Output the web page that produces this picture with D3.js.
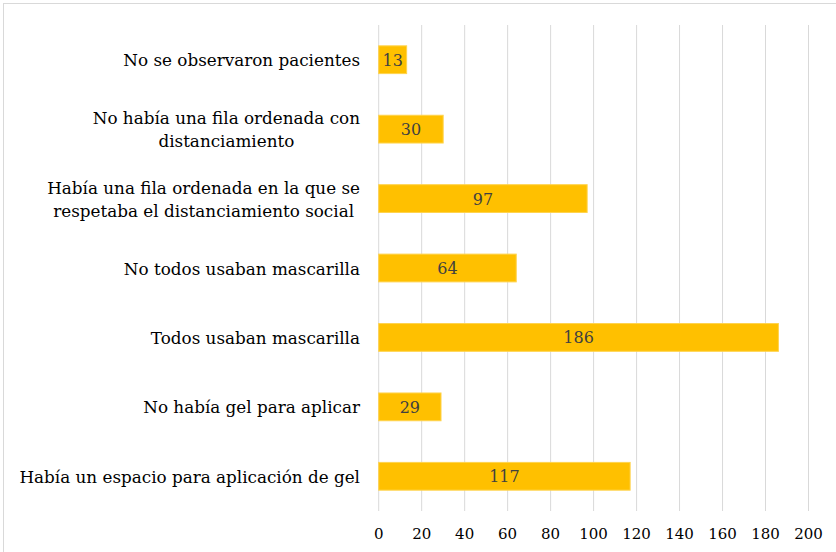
<!DOCTYPE html>
<html>
<head>
<meta charset="utf-8">
<script src="https://cdn.jsdelivr.net/npm/d3@7"></script>
<style>
  body { margin: 0; background: #fff; }
</style>
</head>
<body>
<div id="chart"></div>
<script>
// categories from top to bottom
const categories = [
  ['No se observaron pacientes'],
  ['No había una fila ordenada con', 'distanciamiento'],
  ['Había una fila ordenada en la que se', 'respetaba el distanciamiento social'],
  ['No todos usaban mascarilla'],
  ['Todos usaban mascarilla'],
  ['No había gel para aplicar'],
  ['Había un espacio para aplicación de gel']
];
const values = [13, 30, 97, 64, 186, 29, 117];
const xTicks = [0, 20, 40, 60, 80, 100, 120, 140, 160, 180, 200];

const width = 836;
const height = 552;
const margin = { top: 25, right: 27.5, bottom: 41, left: 378.7 };
const font = 'DejaVu Serif';

const svg = d3.select('#chart')
  .append('svg')
  .attr('width', width)
  .attr('height', height)
  .style('display', 'block');

// outer border
svg.append('rect')
  .attr('x', 3.5)
  .attr('y', 3.5)
  .attr('width', width)
  .attr('height', height)
  .attr('fill', 'none')
  .attr('stroke', '#d9d9d9');

const x = d3.scaleLinear()
  .domain([0, 200])
  .range([margin.left, width - margin.right]);

const y = d3.scaleBand()
  .domain(d3.range(values.length))
  .range([margin.top, height - margin.bottom])
  .paddingInner(0.6)
  .paddingOuter(0.3);

// gridlines
svg.append('g')
  .selectAll('line')
  .data(xTicks)
  .enter()
  .append('line')
  .attr('x1', (d) => x(d))
  .attr('x2', (d) => x(d))
  .attr('y1', margin.top)
  .attr('y2', height - margin.bottom)
  .attr('stroke', '#d9d9d9')
  .attr('stroke-width', 1);

// x tick labels
svg.append('g')
  .selectAll('text')
  .data(xTicks)
  .enter()
  .append('text')
  .attr('x', (d) => x(d))
  .attr('y', 539)
  .attr('text-anchor', 'middle')
  .attr('fill', '#000')
  .attr('font-family', font)
  .attr('font-size', 15)
  .text((d) => d);

// bars
svg.append('g')
  .selectAll('rect')
  .data(values)
  .enter()
  .append('rect')
  .attr('x', x(0))
  .attr('y', (d, i) => y(i))
  .attr('width', (d) => x(d) - x(0))
  .attr('height', y.bandwidth())
  .attr('fill', '#ffc000')
  .attr('stroke', '#ffd34d')
  .attr('stroke-width', 1);

// value labels
svg.append('g')
  .selectAll('text')
  .data(values)
  .enter()
  .append('text')
  .attr('x', (d) => (x(0) + x(d)) / 2)
  .attr('y', (d, i) => y(i) + y.bandwidth() / 2 + 6)
  .attr('text-anchor', 'middle')
  .attr('fill', '#404040')
  .attr('font-family', font)
  .attr('font-size', 16)
  .text((d) => d);

// category labels (wrapped lines centred within the block, block right-aligned)
const lineH = 23;
const labelRight = 360;
const catG = svg.append('g');
categories.forEach((lines, i) => {
  const cy = y(i) + y.bandwidth() / 2;
  const t = catG.append('text')
    .attr('text-anchor', 'middle')
    .attr('fill', '#000')
    .attr('font-family', font)
    .attr('font-size', 16.8);
  const spans = lines.map((line, k) =>
    t.append('tspan')
      .attr('y', cy + 6.5 + (k - (lines.length - 1) / 2) * lineH)
      .text(line)
  );
  const maxW = d3.max(spans, (s) => s.node().getComputedTextLength());
  spans.forEach((s) => s.attr('x', labelRight - maxW / 2));
});
</script>
</body>
</html>
